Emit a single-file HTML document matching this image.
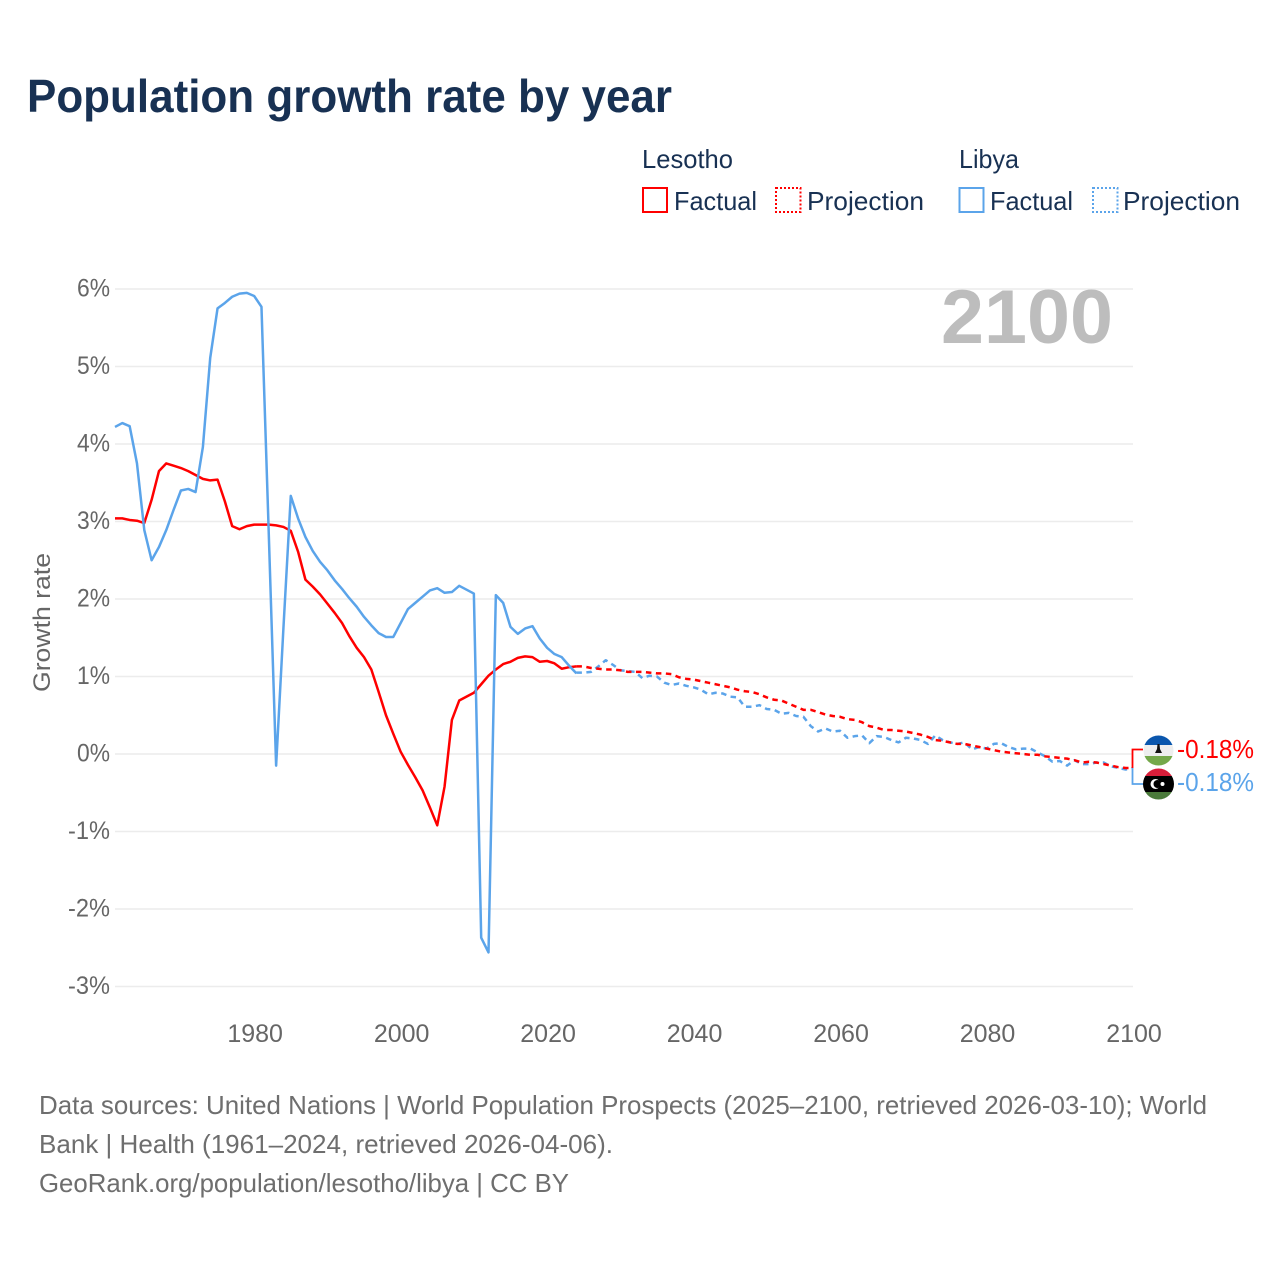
<!DOCTYPE html>
<html lang="en">
<head>
<meta charset="utf-8">
<title>Population growth rate by year</title>
<style>
html,body{margin:0;padding:0;background:#fff;width:1280px;height:1280px;overflow:hidden}
svg{display:block}
text{font-family:"Liberation Sans",sans-serif}
</style>
</head>
<body>
<svg id="chart" width="1280" height="1280" viewBox="0 0 1280 1280" xmlns="http://www.w3.org/2000/svg">
  <rect x="0" y="0" width="1280" height="1280" fill="#fff"/>
  <text x="27" y="112" font-size="46" font-weight="700" fill="#183153" textLength="645" lengthAdjust="spacingAndGlyphs">Population growth rate by year</text>

  <g font-size="26" fill="#183153">
    <text x="642" y="168" textLength="91" lengthAdjust="spacingAndGlyphs">Lesotho</text>
    <rect x="643" y="188" width="24" height="24" fill="none" stroke="#ff0000" stroke-width="2"/>
    <text x="674" y="210" textLength="83" lengthAdjust="spacingAndGlyphs">Factual</text>
    <rect x="776" y="188" width="24.500" height="24" fill="none" stroke="#ff0000" stroke-width="2" stroke-dasharray="2,2"/>
    <text x="807" y="210" textLength="117" lengthAdjust="spacingAndGlyphs">Projection</text>
    <text x="959" y="168" textLength="60" lengthAdjust="spacingAndGlyphs">Libya</text>
    <rect x="959.500" y="188" width="24" height="24" fill="none" stroke="#5ba4ea" stroke-width="2"/>
    <text x="990" y="210" textLength="83" lengthAdjust="spacingAndGlyphs">Factual</text>
    <rect x="1093" y="188" width="24.500" height="24" fill="none" stroke="#5ba4ea" stroke-width="2" stroke-dasharray="2,2"/>
    <text x="1123" y="210" textLength="117" lengthAdjust="spacingAndGlyphs">Projection</text>
  </g>

  <g id="grid"></g>
  <text x="941" y="343" font-size="76" font-weight="700" fill="#bdbdbd" textLength="172" lengthAdjust="spacingAndGlyphs">2100</text>
  <g id="yticks" font-size="25" fill="#666666" text-anchor="end"></g>
  <g id="xticks" font-size="25" fill="#666666" text-anchor="middle"></g>
  <text transform="translate(50,692) rotate(-90)" font-size="24" fill="#666666" textLength="139" lengthAdjust="spacingAndGlyphs">Growth rate</text>

  <g id="series" fill="none" stroke-width="2.5" stroke-linejoin="round"></g>
  <g id="connectors" fill="none" stroke-width="1.8"></g>

  <g>
    <clipPath id="clipLs"><circle cx="1158.500" cy="750.500" r="15"/></clipPath>
    <g clip-path="url(#clipLs)">
      <rect x="1143" y="735" width="31" height="10" fill="#0a56ad"/>
      <rect x="1143" y="745" width="31" height="11" fill="#eeeeee"/>
      <rect x="1143" y="756" width="31" height="11" fill="#74a84a"/>
      <path d="M1157.500 744 H1159.500 L1160 749 L1162 753 H1155 L1157 749 Z" fill="#111"/>
    </g>
  </g>
  <g>
    <clipPath id="clipLy"><circle cx="1158.500" cy="784" r="15.500"/></clipPath>
    <g clip-path="url(#clipLy)">
      <rect x="1143" y="768" width="31" height="8" fill="#d81e3a"/>
      <rect x="1143" y="776" width="31" height="16" fill="#000000"/>
      <rect x="1143" y="792" width="31" height="8" fill="#4a7a3a"/>
      <circle cx="1155.500" cy="784" r="5" fill="#fff"/>
      <circle cx="1157.500" cy="784" r="4" fill="#000"/>
      <circle cx="1162.500" cy="784" r="2" fill="#fff"/>
    </g>
  </g>
  <g id="endLabels" font-size="26"></g>

  <g font-size="26" fill="#6e6e6e">
    <text x="39" y="1114" textLength="1168" lengthAdjust="spacingAndGlyphs">Data sources: United Nations | World Population Prospects (2025–2100, retrieved 2026-03-10); World</text>
    <text x="39" y="1153" textLength="574" lengthAdjust="spacingAndGlyphs">Bank | Health (1961–2024, retrieved 2026-04-06).</text>
    <text x="39" y="1192" textLength="530" lengthAdjust="spacingAndGlyphs">GeoRank.org/population/lesotho/libya | CC BY</text>
  </g>
</svg>
<script>
var yTickValues = [6, 5, 4, 3, 2, 1, 0, -1, -2, -3];
var yTickLabels = ['6%', '5%', '4%', '3%', '2%', '1%', '0%', '-1%', '-2%', '-3%'];
var xTickYears = [1980, 2000, 2020, 2040, 2060, 2080, 2100];
var factualStartYear = 1961;
var projectionStartYear = 2024;
var lesothoFactual = [3.04,3.04,3.02,3.01,2.98,3.28,3.65,3.75,3.72,3.69,3.65,3.60,3.55,3.53,3.54,3.26,2.94,2.90,2.94,2.96,2.96,2.96,2.95,2.93,2.88,2.61,2.25,2.16,2.06,1.94,1.82,1.69,1.52,1.37,1.25,1.09,0.80,0.50,0.26,0.03,-0.14,-0.30,-0.47,-0.69,-0.92,-0.42,0.44,0.69,0.74,0.79,0.90,1.01,1.09,1.16,1.19,1.24,1.26,1.25,1.19,1.20,1.17,1.10,1.12,1.13];
var libyaFactual = [4.22,4.27,4.23,3.75,2.89,2.50,2.67,2.89,3.15,3.40,3.42,3.38,3.96,5.11,5.75,5.82,5.90,5.94,5.95,5.91,5.77,2.83,-0.15,1.63,3.33,3.04,2.80,2.62,2.48,2.37,2.24,2.13,2.01,1.90,1.77,1.66,1.56,1.51,1.51,1.69,1.87,1.95,2.03,2.11,2.14,2.08,2.09,2.17,2.12,2.07,-2.37,-2.56,2.05,1.95,1.64,1.55,1.62,1.65,1.49,1.37,1.29,1.25,1.14,1.04];
var lesothoProjection = [1.13,1.13,1.11,1.10,1.09,1.09,1.08,1.06,1.06,1.06,1.05,1.04,1.04,1.03,0.99,0.97,0.96,0.94,0.92,0.90,0.88,0.86,0.83,0.81,0.80,0.77,0.73,0.70,0.69,0.65,0.61,0.57,0.57,0.54,0.51,0.49,0.48,0.45,0.44,0.41,0.36,0.34,0.31,0.31,0.30,0.29,0.27,0.25,0.22,0.18,0.17,0.15,0.13,0.13,0.11,0.09,0.07,0.05,0.03,0.02,0.01,0,-0.01,-0.01,-0.03,-0.04,-0.05,-0.06,-0.08,-0.11,-0.10,-0.11,-0.13,-0.15,-0.17,-0.18,-0.18];
var libyaProjection = [1.05,1.05,1.06,1.13,1.21,1.15,1.08,1.07,1.06,0.98,1.01,1.00,0.92,0.89,0.91,0.88,0.86,0.83,0.77,0.79,0.78,0.74,0.73,0.61,0.61,0.63,0.58,0.57,0.52,0.53,0.49,0.48,0.36,0.29,0.33,0.29,0.30,0.21,0.23,0.24,0.14,0.23,0.22,0.18,0.15,0.21,0.20,0.18,0.13,0.24,0.18,0.15,0.13,0.15,0.06,0.09,0.07,0.13,0.14,0.09,0.06,0.07,0.07,0.02,-0.03,-0.10,-0.09,-0.15,-0.08,-0.13,-0.13,-0.11,-0.11,-0.16,-0.18,-0.20,-0.18];
var endLabelLesotho = '-0.18%';
var endLabelLibya = '-0.18%';

var NS = 'http://www.w3.org/2000/svg';
var LESOTHO_COLOR = '#ff0000';
var LIBYA_COLOR = '#5ba4ea';
function xScale(year) { return 115 + (year - 1961) * (1018 / 139); }
function yScale(value) { return 754 - value * 77.5; }
function make(tag, parentId) {
  var el = document.createElementNS(NS, tag);
  document.getElementById(parentId).appendChild(el);
  return el;
}
yTickValues.forEach(function (v, i) {
  var line = make('line', 'grid');
  
  
  line.setAttribute('x1', 115);
  line.setAttribute('x2', 1133);
  line.setAttribute('y1', yScale(v));
  line.setAttribute('y2', yScale(v));
  line.setAttribute('stroke', '#ececec');
  line.setAttribute('stroke-width', '1.5');
  var label = make('text', 'yticks');
  
  
  label.setAttribute('x', 110);
  label.setAttribute('y', yScale(v) + 7.5);
  label.textContent = yTickLabels[i];
  label.setAttribute('textLength', (yTickLabels[i].length > 2 ? 42 : 33));
  label.setAttribute('lengthAdjust', 'spacingAndGlyphs');
});
xTickYears.forEach(function (year) {
  var label = make('text', 'xticks');
  
  
  label.setAttribute('x', xScale(year) + 1);
  label.setAttribute('y', 1042);
  label.textContent = String(year);
});
function pathFrom(values, startYear) {
  return values.map(function (v, i) {
    return (i ? 'L' : 'M') + xScale(startYear + i).toFixed(2) + ' ' + yScale(v).toFixed(2);
  }).join(' ');
}
var libyaProjLine = make('path', 'series');


libyaProjLine.setAttribute('d', pathFrom(libyaProjection, projectionStartYear));
libyaProjLine.setAttribute('stroke', LIBYA_COLOR);
libyaProjLine.setAttribute('stroke-dasharray', '5.5,4.5');
var lesothoProjLine = make('path', 'series');


lesothoProjLine.setAttribute('d', pathFrom(lesothoProjection, projectionStartYear));
lesothoProjLine.setAttribute('stroke', LESOTHO_COLOR);
lesothoProjLine.setAttribute('stroke-dasharray', '5.5,4.5');
var lesothoLine = make('path', 'series');


lesothoLine.setAttribute('d', pathFrom(lesothoFactual, factualStartYear));
lesothoLine.setAttribute('stroke', LESOTHO_COLOR);
var libyaLine = make('path', 'series');


libyaLine.setAttribute('d', pathFrom(libyaFactual, factualStartYear));
libyaLine.setAttribute('stroke', LIBYA_COLOR);

var lesothoEndY = yScale(lesothoProjection[lesothoProjection.length - 1]);
var libyaEndY = yScale(libyaProjection[libyaProjection.length - 1]);
var connLesotho = make('path', 'connectors');


connLesotho.setAttribute('d', 'M1132.500 ' + lesothoEndY + ' V749.500 H1143');
connLesotho.setAttribute('stroke', LESOTHO_COLOR);
var connLibya = make('path', 'connectors');


connLibya.setAttribute('d', 'M1132.500 ' + libyaEndY + ' V784 H1144');
connLibya.setAttribute('stroke', LIBYA_COLOR);

var labelLesotho = make('text', 'endLabels');


labelLesotho.setAttribute('x', 1177);
labelLesotho.setAttribute('y', 758);
labelLesotho.setAttribute('fill', LESOTHO_COLOR);
labelLesotho.setAttribute('textLength', 77);
labelLesotho.setAttribute('lengthAdjust', 'spacingAndGlyphs');
labelLesotho.textContent = endLabelLesotho;
var labelLibya = make('text', 'endLabels');


labelLibya.setAttribute('x', 1177);
labelLibya.setAttribute('y', 791);
labelLibya.setAttribute('fill', LIBYA_COLOR);
labelLibya.setAttribute('textLength', 77);
labelLibya.setAttribute('lengthAdjust', 'spacingAndGlyphs');
labelLibya.textContent = endLabelLibya;
</script>
</body>
</html>
